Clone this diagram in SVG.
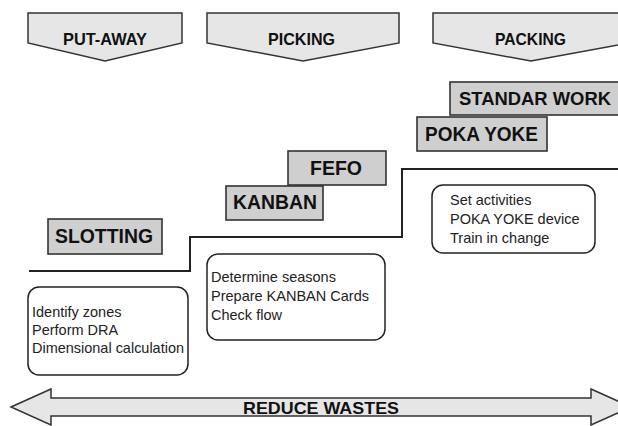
<svg xmlns="http://www.w3.org/2000/svg" width="618" height="426" viewBox="0 0 618 426">
<style>
.phase{fill:#e6e6e6;stroke:#333;stroke-width:1.5}
.tag{fill:#cfcfcf;stroke:#333;stroke-width:1.6}
.note{fill:#fff;stroke:#222;stroke-width:1.5}
.bt{font-family:"Liberation Sans",Arial,sans-serif;font-weight:bold;fill:#111}
.nt{font-family:"Liberation Sans",Arial,sans-serif;font-size:14.5px;fill:#222}
.line{fill:none;stroke:#222;stroke-width:2}
</style>
<rect width="618" height="426" fill="#fff"/>
<g id="putaway">
<polygon class="phase" points="28,13 182,13 182,43 105,61 28,43"/>
<text class="bt" x="63" y="45" font-size="17" textLength="84" lengthAdjust="spacingAndGlyphs">PUT-AWAY</text>
</g>
<g id="picking">
<polygon class="phase" points="207,13 399,13 399,43 303,61 207,43"/>
<text class="bt" x="268" y="45" font-size="17" textLength="67" lengthAdjust="spacingAndGlyphs">PICKING</text>
</g>
<g id="packing">
<polygon class="phase" points="433,13 629,13 629,43 531,61 433,43"/>
<text class="bt" x="495" y="45" font-size="17" textLength="71" lengthAdjust="spacingAndGlyphs">PACKING</text>
</g>
<g id="connectors">
<polyline class="line" points="29,271 190,271 190,237 402,237 402,169 618,169"/>
</g>
<g id="standar-work">
<rect class="tag" x="450" y="82" width="190" height="33"/>
<text class="bt" x="459" y="105" font-size="19" textLength="152" lengthAdjust="spacingAndGlyphs">STANDAR WORK</text>
</g>
<g id="poka-yoke">
<rect class="tag" x="417" y="117" width="130" height="34"/>
<text class="bt" x="425" y="141" font-size="20" textLength="113" lengthAdjust="spacingAndGlyphs">POKA YOKE</text>
</g>
<g id="fefo">
<rect class="tag" x="288" y="151" width="98" height="34"/>
<text class="bt" x="310" y="175" font-size="20" textLength="52" lengthAdjust="spacingAndGlyphs">FEFO</text>
</g>
<g id="kanban">
<rect class="tag" x="226" y="186" width="97" height="34"/>
<text class="bt" x="233" y="209" font-size="20" textLength="84" lengthAdjust="spacingAndGlyphs">KANBAN</text>
</g>
<g id="slotting">
<rect class="tag" x="48" y="219" width="114" height="35"/>
<text class="bt" x="55" y="243" font-size="20" textLength="98" lengthAdjust="spacingAndGlyphs">SLOTTING</text>
</g>
<g id="packing-notes">
<rect class="note" x="432" y="185" width="163" height="68" rx="11"/>
<text class="nt" x="450" y="205">Set activities</text>
<text class="nt" x="450" y="224">POKA YOKE device</text>
<text class="nt" x="450" y="243">Train in change</text>
</g>
<g id="picking-notes">
<rect class="note" x="207" y="254" width="178" height="86" rx="11"/>
<text class="nt" x="211" y="282">Determine seasons</text>
<text class="nt" x="211" y="301">Prepare KANBAN Cards</text>
<text class="nt" x="211" y="320">Check flow</text>
</g>
<g id="putaway-notes">
<rect class="note" x="28" y="287" width="160" height="88" rx="11"/>
<text class="nt" x="32" y="317">Identify zones</text>
<text class="nt" x="32" y="335">Perform DRA</text>
<text class="nt" x="32" y="353" textLength="152" lengthAdjust="spacingAndGlyphs">Dimensional calculation</text>
</g>
<g id="reduce-wastes">
<polygon class="phase" points="11,407 51,389 51,398 591,398 591,389 631,407 591,425 591,416 51,416 51,425"/>
<text class="bt" x="243" y="414" font-size="17" textLength="156" lengthAdjust="spacingAndGlyphs">REDUCE WASTES</text>
</g>
</svg>
